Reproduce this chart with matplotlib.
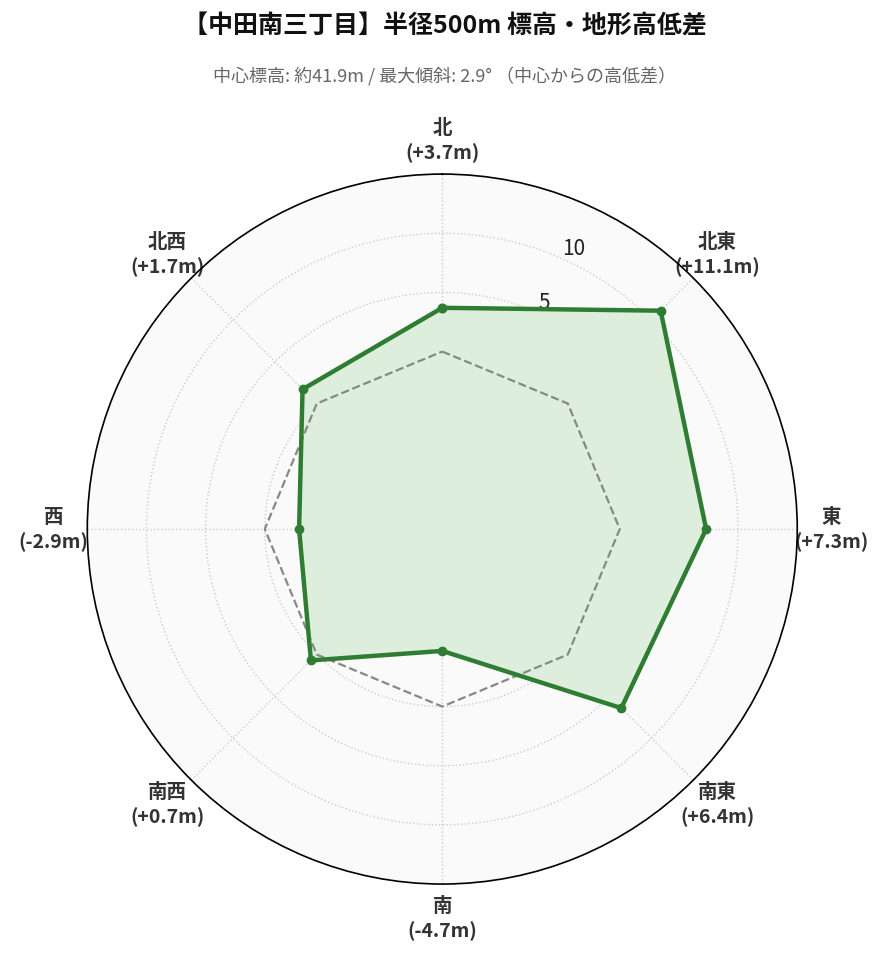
import numpy as np
import matplotlib.pyplot as plt

plt.rcParams['font.family'] = ['Noto Sans CJK JP', 'DejaVu Sans']

# data
directions = ['北', '北東', '東', '南東', '南', '南西', '西', '北西']
diffs = [3.7, 11.1, 7.3, 6.4, -4.7, 0.7, -2.9, 1.7]
rticks = [-10, -5, 0, 5, 10]

angles = np.deg2rad(np.arange(0, 360, 45))
ang_c = np.append(angles, angles[0])
vals_c = np.append(diffs, diffs[0])

fig = plt.figure(figsize=(8.89, 9.62), dpi=100)
ax = fig.add_axes([0.098, 0.080, 0.799, 0.738], projection='polar')
ax.set_theta_zero_location('N')
ax.set_theta_direction(-1)
ax.set_ylim(-15, 15)
ax.set_facecolor('#fafafa')
ax.spines['polar'].set_color('black')
ax.spines['polar'].set_linewidth(1.2)

ax.plot(ang_c, np.zeros_like(ang_c), '--', color='#888888', lw=1.6, zorder=4)
ax.fill(ang_c, vals_c, color='#ddeedd', zorder=3)
ax.plot(ang_c, vals_c, '-o', color='#2e7d32', lw=3.2, ms=6, zorder=5)

ax.set_rticks(rticks)
ax.set_rlabel_position(24)
ax.set_yticklabels([str(t).replace('-', '\u2212') for t in rticks], fontsize=15, color='#222222')
ax.set_xticks(angles)
ax.set_xticklabels([f'{d}\n({v:+.1f}m)' for d, v in zip(directions, diffs)],
                   fontsize=14, fontweight='bold', color='#333333', linespacing=1.3)
ax.tick_params(axis='x', pad=14)
ax.grid(color='#cccccc', linestyle=':', linewidth=1)
ax.set_axisbelow(True)

fig.text(0.5, 0.972, '【中田南三丁目】半径500m 標高・地形高低差', ha='center', va='center',
         fontsize=18, fontweight='bold', color='#111111')
fig.text(0.5, 0.921, '中心標高: 約41.9m / 最大傾斜: 2.9° （中心からの高低差）', ha='center',
         va='center', fontsize=13, color='#666666')

fig.savefig('out.png', dpi=100)
